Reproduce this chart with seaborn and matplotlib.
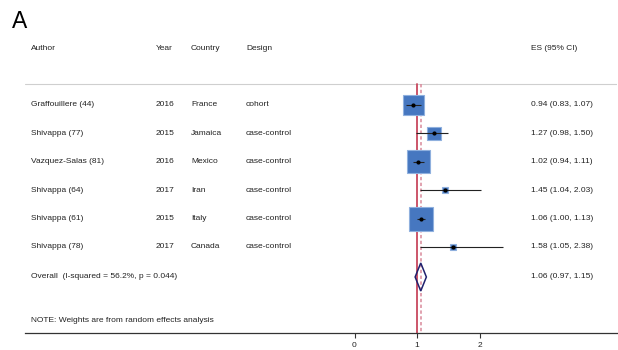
import matplotlib
matplotlib.use("Agg")
import matplotlib.pyplot as plt
from matplotlib.patches import Rectangle, Polygon
import numpy as np
import pandas as pd
import seaborn as sns

# Study-level data
authors = ["Graffouillere (44)", "Shivappa (77)", "Vazquez-Salas (81)",
           "Shivappa (64)", "Shivappa (61)", "Shivappa (78)"]
years = ["2016", "2015", "2016", "2017", "2015", "2017"]
countries = ["France", "Jamaica", "Mexico", "Iran", "Italy", "Canada"]
designs = ["cohort", "case-control", "case-control", "case-control",
           "case-control", "case-control"]
es = [0.94, 1.27, 1.02, 1.45, 1.06, 1.58]
ci_low = [0.83, 0.98, 0.94, 1.04, 1.00, 1.05]
ci_high = [1.07, 1.50, 1.11, 2.03, 1.13, 2.38]
weights = [23.9, 10.1, 29.3, 2.0, 32.7, 2.0]  # random-effects weights (%)

# Pooled estimate
overall_es, overall_low, overall_high = 1.06, 0.97, 1.15
overall_label = "Overall  (I-squared = 56.2%, p = 0.044)"
note = "NOTE: Weights are from random effects analysis"
xticks = [0, 1, 2]

sns.set_theme(style="white")
plt.rcParams["font.family"] = ["Liberation Sans", "DejaVu Sans"]

W, H = 618, 350
fig = plt.figure(figsize=(W / 100, H / 100), dpi=100)
# axes: left edge 25px, right 617px, bottom spine at 333px from top
ax = fig.add_axes([25 / W, (H - 333) / H, 592 / W, 333 / H])

PX_PER_UNIT = 62.5
X0 = 354.5  # pixel position of x=0


def px2x(px):
    return (px - X0) / PX_PER_UNIT


ax.set_xlim(px2x(25), px2x(617))
ax.set_ylim(333, 0)

FS = 6
TXT = "#222222"
row_y = [105 + 28.4 * i for i in range(len(authors))]
overall_y = 277

# Header
for px, lab in [(31, "Author"), (156, "Year"), (191, "Country"),
                (246, "Design"), (531, "ES (95% CI)")]:
    ax.text(px2x(px), 48, lab, fontsize=FS, color=TXT, va="center", ha="left")

# Separator under header
ax.plot([px2x(25), px2x(617)], [84, 84], color="#cfcfcf", lw=0.8, zorder=1)

# Reference lines: null effect and pooled estimate
ax.plot([1, 1], [84, 333], color="#c8485e", lw=1.3, zorder=1)
ax.plot([overall_es, overall_es], [84, 333], color="#d9899a", lw=1.1,
        ls=(0, (2.2, 1.6)), zorder=1)

df = pd.DataFrame({"es": es, "y": row_y, "lo": ci_low, "hi": ci_high,
                   "w": weights})

# Weight boxes (area proportional to weight)
for _, r in df.iterrows():
    side = 4.2 * np.sqrt(r["w"])  # pixels
    ax.add_patch(Rectangle((r["es"] - side / 2 / PX_PER_UNIT, r["y"] - side / 2),
                           side / PX_PER_UNIT, side, facecolor="#4677c0",
                           edgecolor="#8fb0de", lw=0.8, zorder=2))

# Confidence intervals and point estimates
ax.hlines(df["y"], df["lo"], df["hi"], color="#222222", lw=0.8, zorder=3)
sns.scatterplot(data=df, x="es", y="y", ax=ax, color="black", s=9,
                edgecolor="black", linewidth=0, zorder=4, legend=False)

# Row labels
for i in range(len(authors)):
    y = row_y[i]
    ax.text(px2x(31), y, authors[i], fontsize=FS, color=TXT, va="center")
    ax.text(px2x(156), y, years[i], fontsize=FS, color=TXT, va="center")
    ax.text(px2x(191), y, countries[i], fontsize=FS, color=TXT, va="center")
    ax.text(px2x(246), y, designs[i], fontsize=FS, color=TXT, va="center")
    ax.text(px2x(531), y, f"{es[i]:.2f} ({ci_low[i]:.2f}, {ci_high[i]:.2f})",
            fontsize=FS, color=TXT, va="center")

# Pooled diamond
dh = 14
ax.add_patch(Polygon([(overall_low, overall_y), (overall_es, overall_y - dh),
                      (overall_high, overall_y), (overall_es, overall_y + dh)],
                     closed=True, fill=False, edgecolor="#1f216e", lw=1.1,
                     zorder=3))
ax.text(px2x(31), overall_y, overall_label, fontsize=FS, color=TXT, va="center")
ax.text(px2x(531), overall_y,
        f"{overall_es:.2f} ({overall_low:.2f}, {overall_high:.2f})",
        fontsize=FS, color=TXT, va="center")

ax.text(px2x(31), 320, note, fontsize=FS, color=TXT, va="center")

# Axis styling
for s in ["top", "left", "right"]:
    ax.spines[s].set_visible(False)
ax.spines["bottom"].set_color("#333333")
ax.spines["bottom"].set_linewidth(0.9)
ax.set_xticks(xticks)
ax.set_xticklabels([str(t) for t in xticks])
ax.set_yticks([])
ax.tick_params(axis="x", bottom=True, length=3.5, width=0.8, color="#333333",
               labelsize=FS, labelcolor=TXT, pad=3)
ax.set_xlabel("")
ax.set_ylabel("")

fig.text(12 / W, 1 - 21 / H, "A", fontsize=16.5, color="black", va="center",
         ha="left")

fig.savefig("out.png", dpi=100)
